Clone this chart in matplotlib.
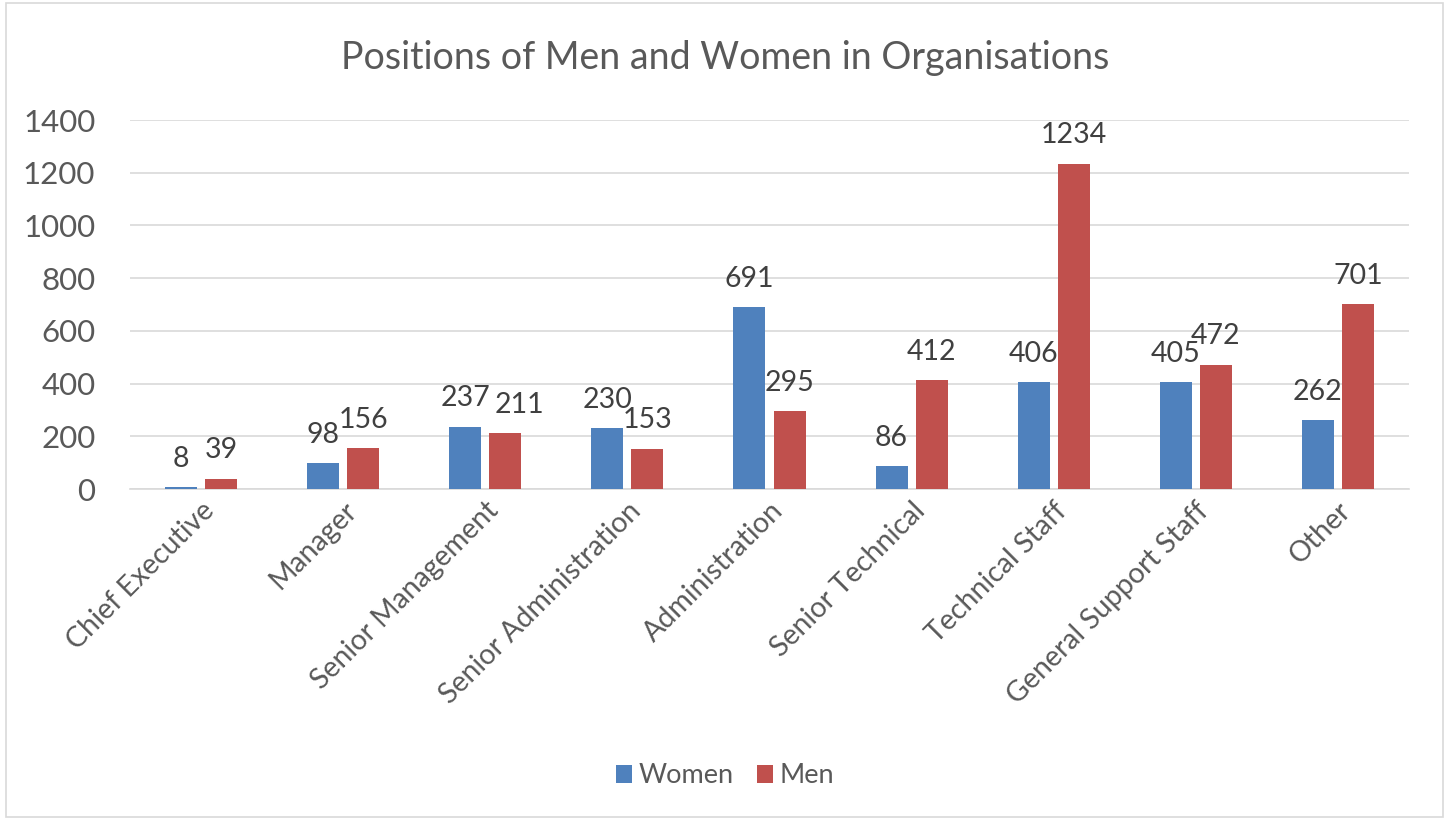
import matplotlib.pyplot as plt
import numpy as np

plt.rcParams['font.family'] = ['Lato', 'DejaVu Sans']

# data
categories = ['Chief Executive', 'Manager', 'Senior Management', 'Senior Administration',
              'Administration', 'Senior Technical', 'Technical Staff',
              'General Support Staff', 'Other']
women = [8, 98, 237, 230, 691, 86, 406, 405, 262]
men = [39, 156, 211, 153, 295, 412, 1234, 472, 701]

blue = '#4F81BD'
red = '#C0504D'
axis_grey = '#595959'
label_grey = '#404040'

fig = plt.figure(figsize=(14.5, 8.22), dpi=100)
ax = fig.add_axes([0.0897, 0.4051, 0.882, 0.4489])

# chart border
fig.patches.append(plt.Rectangle((0.004, 0.006), 0.991, 0.99, transform=fig.transFigure,
                                 fill=False, edgecolor='#D9D9D9', linewidth=1.2))

x = np.arange(len(categories))
w = 0.225
off = 0.141
b1 = ax.bar(x - off, women, w, color=blue, label='Women', zorder=3)
b2 = ax.bar(x + off, men, w, color=red, label='Men', zorder=3)

# small sideways nudge for labels that would collide (as in the original)
nudge = {(1, 2): 10}

for si, bars in enumerate((b1, b2)):
    for i, b in enumerate(bars):
        ax.annotate(f'{int(b.get_height())}', (b.get_x() + b.get_width() / 2, b.get_height()),
                    xytext=(nudge.get((si, i), 0), 11), textcoords='offset points',
                    ha='center', va='bottom', fontsize=20.5, color=label_grey)

ax.set_xlim(-0.5, len(categories) - 0.5)
ax.set_ylim(0, 1400)
ax.set_yticks(range(0, 1401, 200))
ax.yaxis.grid(True, color='#D9D9D9', linewidth=1.2, zorder=0)
ax.tick_params(axis='y', length=0, labelsize=22.5, labelcolor=axis_grey, pad=25)
ax.tick_params(axis='x', length=0, labelsize=20.5, labelcolor=axis_grey, pad=6)
ax.set_xticks(x)
ax.set_xticklabels(categories, rotation=45, ha='right', rotation_mode='anchor')
for s in ['top', 'right', 'left']:
    ax.spines[s].set_visible(False)
ax.spines['bottom'].set_color('#D9D9D9')
ax.spines['bottom'].set_linewidth(1.2)

fig.text(0.5, 0.93, 'Positions of Men and Women in Organisations', ha='center', va='center',
         fontsize=27, color=axis_grey)

fig.legend(handles=[b1, b2], loc='center', bbox_to_anchor=(0.5, 0.056), ncol=2, frameon=False,
           fontsize=19.5, labelcolor=axis_grey, handlelength=0.6, handleheight=0.6,
           handletextpad=0.25, columnspacing=0.85)

fig.savefig('out.png', dpi=100)
